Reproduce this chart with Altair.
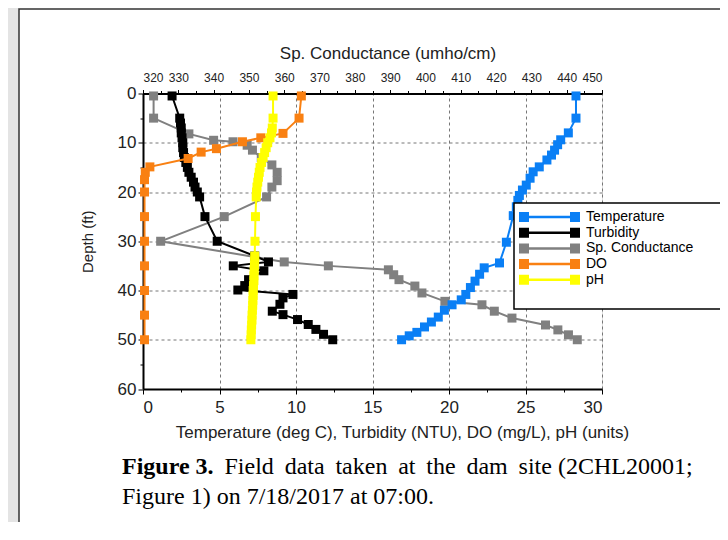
import altair as alt
import pandas as pd

SERIES = ["Temperature", "Turbidity", "Sp. Conductance", "DO", "pH"]
COLORS = ["#0a7ff5", "#000000", "#808080", "#f98012", "#ffff00"]

temp_depth = [0.5, 5, 8, 9.4, 10.4, 11.5, 12.5, 13.5, 14.9, 15.9, 17.2, 18.6, 19.6, 20.7, 21.7, 23,
              24.8, 30.2, 34.4, 35.4, 36.7, 38.1, 39.4, 40.8, 41.9, 42.9, 44, 45.4, 46.4, 47.4, 48.5, 49.2, 50]
temp_val = [28.3, 28.3, 27.8, 27.3, 27.1, 26.9, 26.7, 26.4, 25.9, 25.5, 25.3, 25.05, 24.8, 24.6, 24.5, 24.4,
            24.2, 23.75, 23.3, 22.3, 22.0, 21.7, 21.4, 21.1, 20.8, 20.2, 19.7, 19.3, 18.85, 18.4, 17.9, 17.4, 16.9]

turb_depth = [0.5, 5, 6, 7, 8, 9, 10, 11, 12, 13, 14, 15, 16, 17, 18, 19, 20, 21, 25, 30, 33, 34.2, 35, 36,
              37.8, 39, 39.9, 40.8, 41.5, 42.8, 44.2, 44.9, 45.9, 46.9, 47.9, 48.9, 50]
turb_val = [1.9, 2.4, 2.45, 2.5, 2.5, 2.55, 2.6, 2.6, 2.65, 2.7, 2.8, 2.9, 3.0, 3.15, 3.3, 3.4, 3.55, 3.7,
            4.05, 4.85, 7.3, 8.2, 5.9, 7.9, 6.9, 6.65, 6.2, 9.8, 9.15, 8.95, 8.45, 9.15, 10.1, 10.8, 11.3, 11.8, 12.4]

cond_depth = [0.5, 5, 8.2, 9.5, 9.8, 10.5, 11.5, 13, 14.5, 16, 17.7, 19, 21, 25, 30, 34.2, 35, 35.8, 36.8,
              37.8, 39.1, 40.5, 42.2, 42.9, 44.2, 45.6, 47, 48, 49, 50]
cond_val = [323, 323, 333, 340, 345.5, 349.5, 351, 353.5, 356.5, 358, 358, 356.5, 355, 343, 325, 360, 372.5,
            389.5, 391, 392.5, 397, 399, 405.5, 416, 419.5, 424.5, 434, 437.5, 440.5, 443]

do_depth = [0.5, 5, 8.1, 9, 9.8, 11.2, 11.9, 13.2, 14.9, 16, 17.5, 20, 25, 30, 35, 40, 45, 50]
do_val = [10.35, 10.2, 9.15, 7.7, 6.5, 4.8, 3.8, 2.95, 0.45, 0.15, 0.1, 0.1, 0.1, 0.1, 0.1, 0.1, 0.1, 0.1]

ph_depth = [0.5, 5, 7, 8, 9, 10, 11, 12, 13, 14, 15, 16, 17, 18, 19, 20, 21, 25, 30, 33, 34, 35, 36, 37,
            38, 39, 40, 41, 42, 43, 44, 45, 46, 47, 48, 49, 50]
ph_val = [8.5, 8.5, 8.45, 8.4, 8.3, 8.15, 8.05, 7.95, 7.85, 7.75, 7.65, 7.6, 7.55, 7.5, 7.45, 7.42, 7.4,
          7.35, 7.32, 7.3, 7.3, 7.28, 7.27, 7.25, 7.25, 7.22, 7.2, 7.2, 7.18, 7.17, 7.15, 7.13, 7.12, 7.1,
          7.08, 7.07, 7.05]

depth_ticks = [0, 10, 20, 30, 40, 50, 60]
bottom_ticks = [0, 5, 10, 15, 20, 25, 30]
top_ticks = [320, 330, 340, 350, 360, 370, 380, 390, 400, 410, 420, 430, 440, 450]

THIN = "\u2009"
caption_bold = "Figure 3."
caption_words = ["Field", "data", "taken", "at", "the", "dam", "site", "(2CHL20001;"]
caption_line2 = "Figure 1) on 7/18/2017 at 07:00."
# justified first line: widen the word gaps a little
caption_rest = caption_words[0]
for i, w in enumerate(caption_words[1:]):
    caption_rest += (" " + THIN if i < 6 else " ") + w


def frame(name, depths, vals):
    return pd.DataFrame({"series": name, "depth": depths, "value": vals})


def halves(ticks):
    out = []
    for a, b in zip(ticks[:-1], ticks[1:]):
        out += [a, (a + b) / 2]
    return out + [ticks[-1]]


FONT = "Liberation Sans"
SYMBOL = "M-1,-1H1V1H-1Z M1,-0.25H9.2V0.25H1Z M9.2,-1H11.2V1H9.2Z"

legend = alt.Legend(orient="none", legendX=374, legendY=116.5, title=None, symbolType=SYMBOL,
                    symbolSize=100, symbolStrokeWidth=0, symbolOpacity=1, labelFontSize=14,
                    labelOffset=55, rowPadding=1.7, padding=0, labelColor="black", labelFont=FONT)
color = alt.Color("series:N", scale=alt.Scale(domain=SERIES, range=COLORS), legend=legend)

major = lambda step: f"abs(datum.value / {step} - round(datum.value / {step})) < 0.001"

y_axis = alt.Axis(values=halves(depth_ticks), labelExpr=f"{major(10)} ? datum.label : ''",
                  tickSize={"condition": {"test": major(10), "value": 5}, "value": 3},
                  gridOpacity={"condition": {"test": f"{major(10)} && datum.value > 0 && datum.value < 60", "value": 1}, "value": 0},
                  grid=True, gridDash=[3, 3], gridColor="#777", gridWidth=1,
                  domainColor="black", domainWidth=2, tickColor="black", labelFontSize=17,
                  labelColor="#222", labelPadding=2, title="Depth (ft)", titleFontSize=15,
                  titleFontWeight="normal", titleColor="#222", titlePadding=22)
y = alt.Y("depth:Q", scale=alt.Scale(domain=[0, 60], reverse=True, nice=False, zero=False), axis=y_axis)

bottom_axis = alt.Axis(values=halves(bottom_ticks), labelExpr=f"{major(5)} ? datum.label : ''",
                       tickSize={"condition": {"test": major(5), "value": 5}, "value": 3},
                       gridOpacity={"condition": {"test": f"{major(5)} && datum.value > 0", "value": 1}, "value": 0},
                       grid=True, gridDash=[3, 3], gridColor="#777", gridWidth=1,
                       domainColor="black", domainWidth=2, tickColor="black", labelFontSize=17,
                       labelColor="#222", labelPadding=5,
                       title="Temperature (deg C), Turbidity (NTU), DO (mg/L), pH (units)",
                       titleFontSize=17, titleFontWeight="normal", titleColor="#222", titleX=259,
                       titlePadding=9)
x_bottom = alt.X("value:Q", scale=alt.Scale(domain=[0, 30], nice=False, zero=False), axis=bottom_axis)

top_axis = alt.Axis(orient="top", values=halves(top_ticks), labelExpr=f"{major(10)} ? datum.label : ''",
                    tickSize={"condition": {"test": major(10), "value": 4}, "value": 3},
                    grid=False, domainColor="black", domainWidth=2, tickColor="black",
                    labelFontSize=12, labelColor="#222", labelPadding=5,
                    title="Sp. Conductance (umho/cm)", titleFontSize=17, titleFontWeight="normal",
                    titleColor="#222", titleX=244.5, titlePadding=9)
x_top = alt.X("value:Q", scale=alt.Scale(domain=[320, 450], nice=False, zero=False), axis=top_axis)


def series_layer(df, x):
    base = alt.Chart(df).encode(x=x, y=y, color=color, order=alt.Order("depth:Q"))
    return alt.layer(base.mark_line(strokeWidth=2),
                     base.mark_point(shape="square", filled=True, size=81, opacity=1))


one = pd.DataFrame({"k": [0]})

legend_dummy = alt.Chart(pd.DataFrame({"series": SERIES})).mark_point(
    shape="square", filled=True, opacity=0).encode(color=color)

left_strip = alt.Chart(one).mark_rect(fill="#e4e4e4").encode(
    x=alt.value(-135), x2=alt.value(-124), y=alt.value(-86), y2=alt.value(440))
panel = alt.Chart(one).mark_rect(fillOpacity=0, stroke="#333", strokeWidth=1.5).encode(
    x=alt.value(-124), x2=alt.value(600), y=alt.value(-84.5), y2=alt.value(470))

cond_layer = series_layer(frame("Sp. Conductance", cond_depth, cond_val), x_top)
bottom_layer = alt.layer(
    series_layer(frame("Temperature", temp_depth, temp_val), x_bottom),
    series_layer(frame("Turbidity", turb_depth, turb_val), x_bottom),
    series_layer(frame("DO", do_depth, do_val), x_bottom),
    series_layer(frame("pH", ph_depth, ph_val), x_bottom),
)

legend_box = alt.Chart(one).mark_rect(fill="white", stroke="black", strokeWidth=1.5).encode(
    x=alt.value(371), x2=alt.value(590), y=alt.value(109.5), y2=alt.value(215.5))

cap_style = dict(font="Liberation Serif", fontSize=24, align="left", baseline="middle", color="black")
cap1 = alt.Chart(one).mark_text(fontWeight="bold", **cap_style).encode(
    x=alt.value(-21), y=alt.value(373.5), text=alt.value(caption_bold))
cap2 = alt.Chart(one).mark_text(**cap_style).encode(
    x=alt.value(81.5), y=alt.value(373.5), text=alt.value(caption_rest))
cap3 = alt.Chart(one).mark_text(**cap_style).encode(
    x=alt.value(-21), y=alt.value(403.5), text=alt.value(caption_line2))

chart = alt.layer(
    legend_dummy, left_strip, panel, cond_layer, bottom_layer, legend_box, cap1, cap2, cap3
).resolve_scale(x="independent").properties(
    width=459, height=295.5,
    autosize=alt.AutoSizeParams(type="none"),
    padding={"left": 135, "top": 85.5, "right": 118, "bottom": 133},
    background="white",
).configure_view(strokeWidth=0).configure(font=FONT)

chart.save("out.html", embed_options={"renderer": "svg", "actions": False})
